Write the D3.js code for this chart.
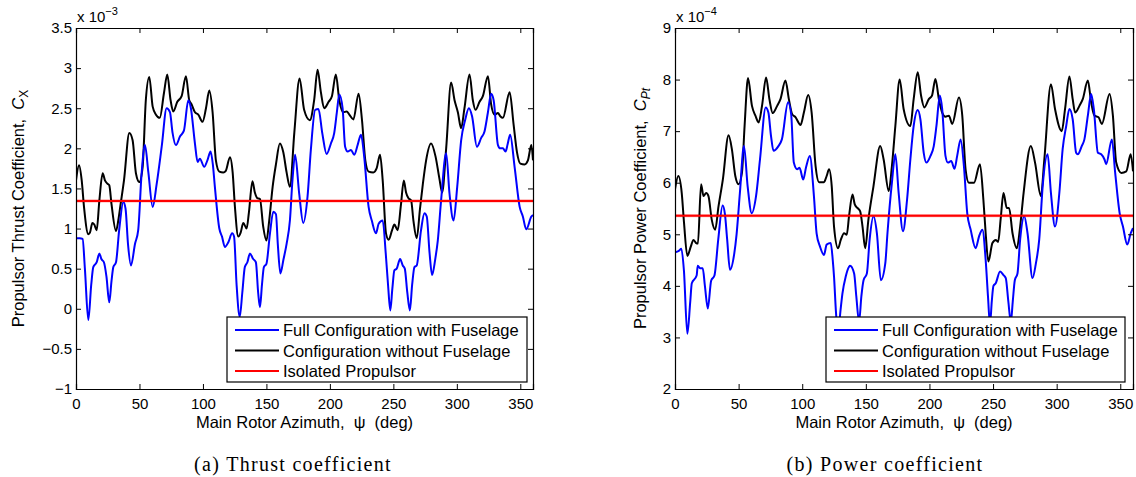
<!DOCTYPE html>
<html><head><meta charset="utf-8">
<script src="https://cdn.jsdelivr.net/npm/d3@7"></script>
<style>
body{margin:0;background:#fff;}
svg text{font-family:"Liberation Sans",Arial,sans-serif;white-space:pre;}
svg text.cap{font-family:"Liberation Serif","DejaVu Serif",serif;letter-spacing:1.3px;}
</style></head>
<body><svg id="c" width="1136" height="477"></svg>
<script>
// ---------- DATA ----------
const xTicks = [0,50,100,150,200,250,300,350];
const thrustTicks = [-1,-0.5,0,0.5,1,1.5,2,2.5,3,3.5];
const powerTicks = [2,3,4,5,6,7,8,9];
const legendLabels = ["Full Configuration with Fuselage","Configuration without Fuselage","Isolated Propulsor"];

// Thrust coefficient (x 1e-3) – full configuration with fuselage
const thrustFullAz = [0,3,5.2,7,9.7,12,13.6,16.3,18.4,20,22,24,26.2,28,29.4,31.5,34,37.3,39,41,43.3,46.5,49,51.7,54.3,57,60.4,63.5,67.5,71.4,74,76,78.7,82,85,88.5,90.5,93.7,95.8,97.6,101,103.5,106,107.8,109.4,112.9,115,117.3,120,123,124.5,126.5,129,131,133,135,137,139.6,141.7,143.5,144.9,146.5,148,150,152.8,155.4,157.5,159,161,163.5,165.9,168.5,170.5,172.6,175.8,179,182.4,185,188.4,191,194,197.4,200.8,203.4,205.5,207.4,210,212,214,216.6,219.2,222,224.5,227,230.5,233,236.3,238.4,241.6,244,245.8,247.6,249.2,250.8,252.6,255.3,257.4,259,261,263,264.8,266.6,268.4,271.8,274.5,276.3,278.5,280.5,283,285,287.6,291.6,294.2,297.4,300.3,303.4,306.5,309.5,312,315.8,319.2,321.8,324.5,327,329,332.4,334.2,336.3,338.4,340,342,345.5,349.5,352,354.7,358.7,360];
const thrustFull = [0.88,0.88,0.87,0.5,-0.14,0.3,0.52,0.58,0.69,0.62,0.58,0.4,0.08,0.35,0.52,0.58,0.98,1.33,1.25,0.8,0.54,0.81,0.98,1.69,2.04,1.7,1.27,1.55,2.02,2.5,2.45,2.2,2.04,2.15,2.22,2.6,2.5,2.06,1.83,1.87,1.77,1.85,1.96,1.8,1.52,1.0,0.9,0.77,0.83,0.94,0.9,0.3,-0.1,0.2,0.52,0.58,0.69,0.62,0.58,0.2,0.02,0.3,0.52,0.56,0.94,1.21,1.18,0.8,0.44,0.62,0.81,1.1,1.6,1.92,1.44,1.07,1.4,1.98,2.48,2.49,2.19,1.93,2.06,2.19,2.45,2.67,2.5,2.02,1.96,1.98,1.92,2.05,2.17,1.9,1.27,1.1,0.94,1.06,1.1,0.69,0.3,-0.02,0.25,0.48,0.5,0.62,0.54,0.5,0.2,-0.02,0.3,0.52,0.54,0.98,1.19,1.15,0.7,0.42,0.62,0.85,1.35,1.94,1.44,1.1,1.52,2.1,2.35,2.5,2.4,2.02,2.13,2.21,2.45,2.68,2.6,2.04,2.0,2.0,1.96,2.05,2.17,1.77,1.27,1.15,0.99,1.15,1.17];

// Thrust coefficient (x 1e-3) – configuration without fuselage
const thrustNoFusAz = [0,2.4,4.5,6.3,9.7,11,12.9,14.4,16.3,18.4,21,22.8,24.7,26.2,28,31.5,33.3,35.2,37.8,42,44.6,47.2,49.9,52.5,55,57.7,60.4,63,66,69.3,71.9,74.5,76.6,79.8,83.2,86.6,89.2,91,93.7,96.3,99.7,102.4,105,107.6,110.2,112.9,116,118,121.3,123.4,125.2,127.8,129.7,131.8,134.4,136.2,139,140.9,142.8,144.9,147.5,150,152.2,154.9,157.5,160.6,163.3,165.9,168.5,172,176.1,179.7,184.2,187.6,190.3,192.9,195.5,199,201.6,204.7,207.4,210.5,213.2,215.3,218.5,222.6,225.3,227.9,230.5,234.2,236.8,239.5,241.6,244.2,246.3,249,250.8,253.4,256,258.2,260,261.8,264,265.8,268.4,271,273.2,275.8,279.7,283.2,286.3,288.4,291.6,295.5,298.2,300.8,303.4,306,310,312.6,314.7,317.9,320.5,324.5,327,329.7,332.4,334.2,336.3,341.6,344.7,347.4,350,353.4,356,358.7,360];
const thrustNoFus = [1.6,1.79,1.6,1.27,0.93,0.95,1.07,1.05,0.98,1.35,1.69,1.6,1.56,1.54,1.3,0.97,1.1,1.31,1.6,2.19,2.1,1.69,1.58,1.77,2.6,2.89,2.52,2.42,2.38,2.69,2.92,2.6,2.46,2.58,2.65,2.9,2.6,2.55,2.45,2.42,2.33,2.5,2.72,2.45,1.85,1.71,1.7,1.72,1.89,1.7,1.27,0.9,0.95,1.07,1.0,1.2,1.59,1.45,1.38,1.37,1.02,0.85,1.1,1.52,1.8,2.06,1.95,1.7,1.52,2.2,2.87,2.48,2.35,2.6,2.98,2.7,2.5,2.58,2.65,2.92,2.6,2.45,2.46,2.42,2.36,2.68,2.35,1.85,1.71,1.7,1.75,1.92,1.6,0.94,0.86,0.98,1.05,0.98,1.3,1.6,1.45,1.38,1.35,1.1,0.88,1.25,1.55,1.85,2.06,1.9,1.62,1.45,2.0,2.82,2.6,2.45,2.25,2.5,2.92,2.6,2.48,2.58,2.65,2.9,2.55,2.42,2.44,2.4,2.38,2.7,2.3,1.95,1.81,1.8,1.85,2.04,1.85];

// Thrust coefficient – isolated propulsor
const thrustIsoAz = [0,360];
const thrustIso = [1.345,1.345];

// Power coefficient (x 1e-4) – full configuration with fuselage
const powerFullAz = [0,3,5,7,9.7,12,13.2,17,17.9,19.7,21.8,23.5,25.8,28.4,31,34,37.4,39.2,41,43.2,46.6,48.4,51,54.2,57.1,60.3,63.7,66.8,71.3,73.4,75.5,77.4,81.3,84,88.9,91.3,93.4,96,97.9,100.8,103,106,109.2,111.3,114,117.1,119.2,122.4,124,125,126.5,128.2,130,131.6,134.2,136.8,137.6,140.8,142.5,144.7,146.5,148.2,150.8,153,156,158.7,161.8,165.3,167,170.5,173.2,175.8,179.2,182.4,185,187.6,190.8,192.9,195.5,197.6,200.8,203.4,205.5,208.2,210,212.6,214.5,217.1,219.7,221.8,224.5,227.1,229.7,232.4,236.3,239,241.6,244.2,246,247.6,249,250.3,252.1,255.5,258.2,260,262,264,265.5,267.1,269.2,271.3,274.5,277.1,281,283.7,286.3,289,292.9,295.5,298.7,302.1,304.7,307.5,310,312.6,315.3,316.6,319.7,321.8,324.5,327.1,329.2,332.4,335,337.6,338.9,343.4,346,349.5,352.1,355.5,358.2,360];
const powerFull = [4.65,4.68,4.72,4.3,3.07,3.7,4.05,4.2,4.39,4.34,4.34,4.0,3.56,4.1,4.2,4.9,5.56,5.4,4.9,4.31,4.63,5.0,5.8,6.71,5.93,5.41,5.74,6.45,7.46,7.36,6.9,6.62,6.71,6.84,7.56,7.33,6.39,6.26,6.29,6.06,6.3,6.52,5.74,5.02,4.76,4.6,4.8,4.83,4.5,4.18,3.5,3.05,3.5,3.85,4.18,4.37,4.39,4.24,3.8,3.3,3.8,4.11,4.24,4.9,5.35,5.02,4.11,4.44,5.02,6.0,6.55,5.8,5.06,5.67,6.45,7.1,7.41,7.23,6.58,6.39,6.52,6.71,7.1,7.69,7.43,6.52,6.39,6.42,6.27,6.52,6.84,6.32,5.41,5.09,4.73,4.96,5.09,4.5,3.8,3.25,3.7,4.0,4.05,4.28,4.21,4.15,3.7,3.3,3.7,4.11,4.24,4.9,5.35,5.02,4.15,4.44,4.9,5.93,6.55,5.8,5.15,5.8,6.65,7.1,7.43,7.23,6.58,6.55,6.71,6.84,7.3,7.72,7.43,6.58,6.55,6.45,6.36,6.84,6.19,5.41,5.15,4.8,5.02,5.12];

// Power coefficient (x 1e-4) – configuration without fuselage
const powerNoFusAz = [0,2.6,5.3,7.1,9.7,12.4,14.5,16.6,18,20.5,22.4,24.5,26.3,28.9,31.6,34.2,37.6,42.1,44.7,47.4,50,52.6,54.7,57.4,60.5,63.2,65.8,68.4,71.6,74.2,76.8,80.3,82.9,86.8,89.5,92.1,94.7,98.7,101.3,104.7,107.4,110.5,113.2,117.1,119.2,121.1,123.2,125,128.2,130.3,132.9,135,136.8,139.5,141.3,143.4,145.5,147.4,149.5,152,156,161.3,164,168,170.5,173.2,176.6,179.7,185,187.6,190.8,193.4,196,199.5,202,204.7,207.4,210,212.6,215.3,217.9,223.2,225.8,228.4,231,235,239.7,242.4,244.2,246.3,249.5,252.1,254,256,258.2,260.8,262.6,265.3,268.7,271.3,274,279.7,283,287.6,290.3,295.5,298.7,304,306.6,310,312.6,314.5,317.9,320.5,324.5,327.1,329.7,332.9,335.5,341.6,344.2,346.8,350.8,354.7,358.2,360];
const powerNoFus = [5.87,6.13,5.8,5.22,4.58,4.76,4.89,4.83,4.82,5.97,5.74,5.8,5.74,5.28,5.09,5.54,6.06,6.92,6.65,6.13,5.97,6.19,7.1,8.03,7.49,7.3,7.17,7.49,8.04,7.62,7.35,7.49,7.62,7.98,7.62,7.33,7.27,7.12,7.36,7.7,7.36,6.32,6.01,6.01,6.13,6.26,5.93,5.15,4.73,4.89,5.02,4.99,5.35,5.77,5.58,5.51,5.45,5.15,4.73,5.28,5.93,6.71,6.45,5.84,6.32,7.1,8.0,7.43,7.1,7.62,8.14,7.69,7.46,7.62,7.69,8.01,7.62,7.36,7.28,7.3,7.14,7.65,7.3,6.26,6.0,6.0,6.36,5.67,5.02,4.47,4.83,4.89,4.85,5.3,5.8,5.51,5.51,5.02,4.73,5.15,5.8,6.71,6.39,5.74,6.45,7.91,7.43,7.0,7.43,8.06,7.62,7.36,7.49,7.62,7.98,7.56,7.3,7.27,7.14,7.72,7.3,6.39,6.19,6.22,6.55,6.22];

// Power coefficient – isolated propulsor
const powerIsoAz = [0,360];
const powerIso = [5.36,5.36];

// ---------- DRAW ----------
const svg = d3.select("#c");
const colors = ["#0000ff","#000000","#ff0000"];
const FS = 15;      // tick labels
const LFS = 16.5;   // axis titles / legend

function zip(a,b){return a.map((v,i)=>[v,b[i]]);}

function panel(o){
  const x = d3.scaleLinear().domain([0,360]).range([o.x0,o.x1]);
  const y = d3.scaleLinear().domain(o.yDomain).range([o.y1,o.y0]);
  const g = svg.append("g");
  const clipId = "clip"+o.id;
  g.append("clipPath").attr("id",clipId).append("rect")
    .attr("x",o.x0).attr("y",o.y0).attr("width",o.x1-o.x0).attr("height",o.y1-o.y0);

  const line = d3.line().x(d=>x(d[0])).y(d=>y(d[1])).curve(d3.curveMonotoneX);
  const series = [o.full,o.nofus,o.iso];
  g.append("path").datum(series[2]).attr("d",line).attr("fill","none")
   .attr("stroke","#ffb0b0").attr("stroke-width",3.2).attr("clip-path",`url(#${clipId})`);
  [1,0,2].forEach(i=>{
    g.append("path").datum(series[i]).attr("d",line).attr("fill","none")
     .attr("stroke",colors[i]).attr("stroke-width",2).attr("stroke-linejoin","round")
     .attr("clip-path",`url(#${clipId})`);
  });

  const tl = 5;
  const bottom = g.append("g").attr("transform",`translate(0,${o.y1})`)
    .call(d3.axisBottom(x).tickValues(xTicks).tickSize(-tl).tickPadding(9).tickFormat(d3.format("d")));
  const top = g.append("g").attr("transform",`translate(0,${o.y0})`)
    .call(d3.axisTop(x).tickValues(xTicks).tickSize(-tl).tickFormat(""));
  const left = g.append("g").attr("transform",`translate(${o.x0},0)`)
    .call(d3.axisLeft(y).tickValues(o.yTicks).tickSize(-tl).tickPadding(4).tickFormat(o.fmt));
  const right = g.append("g").attr("transform",`translate(${o.x1},0)`)
    .call(d3.axisRight(y).tickValues(o.yTicks).tickSize(-tl).tickFormat(""));
  [bottom,top,left,right].forEach(a=>{
    a.attr("font-size",null).attr("font-family",null);
    a.select(".domain").attr("stroke","#000").attr("stroke-width",1.2);
    a.selectAll(".tick line").attr("stroke","#000").attr("stroke-width",1);
    a.selectAll("text").style("font-size",FS+"px").attr("fill","#000");
  });
  bottom.selectAll("text").attr("dy","0.71em");

  const ex = g.append("text").attr("x",o.x0+1).attr("y",22).style("font-size",FS+"px");
  ex.append("tspan").text("x 10");
  ex.append("tspan").attr("dy",-7).style("font-size","11px").text(o.exp);

  g.append("text").attr("x",(o.x0+o.x1)/2).attr("y",428).attr("text-anchor","middle")
   .style("font-size",LFS+"px").text("Main Rotor Azimuth,  \u03C8  (deg)");

  const yl = g.append("text").attr("transform",`translate(${o.ylx},${(o.y0+o.y1)/2}) rotate(-90)`)
   .attr("text-anchor","middle").style("font-size",LFS+"px");
  yl.append("tspan").text(o.ylabel+",  ");
  yl.append("tspan").attr("font-style","italic").text("C");
  yl.append("tspan").attr("dy",4).style("font-size","12px").attr("font-style",o.subItalic?"italic":"normal").text(o.sub);

  const lg = g.append("g");
  lg.append("rect").attr("x",o.lx).attr("y",317).attr("width",o.lw).attr("height",65)
    .attr("fill","#fff").attr("stroke","#000").attr("stroke-width",1.2);
  legendLabels.forEach((t,i)=>{
    const yy = 330 + i*20.5;
    lg.append("line").attr("x1",o.lx+8).attr("x2",o.lx+52).attr("y1",yy).attr("y2",yy)
      .attr("stroke",colors[i]).attr("stroke-width",2);
    lg.append("text").attr("x",o.lx+56).attr("y",yy+6).style("font-size",LFS+"px").text(t);
  });

  svg.append("text").attr("class","cap").attr("x",o.capx).attr("y",471).attr("text-anchor","middle")
    .style("font-size","20px").text(o.caption);
}

panel({id:"a",x0:76,x1:533,y0:28,y1:389,yDomain:[-1,3.5],yTicks:thrustTicks,
  fmt:d=>(d<0?"\u2212":"")+d3.format("")(Math.abs(d)),exp:"\u22123",
  full:zip(thrustFullAz,thrustFull),nofus:zip(thrustNoFusAz,thrustNoFus),iso:zip(thrustIsoAz,thrustIso),
  ylabel:"Propulsor Thrust Coefficient",sub:"X",subItalic:false,ylx:24,lx:227,lw:300,
  capx:293,caption:"(a) Thrust coefficient"});
panel({id:"b",x0:675,x1:1133,y0:28,y1:389,yDomain:[2,9],yTicks:powerTicks,
  fmt:d3.format("d"),exp:"\u22124",
  full:zip(powerFullAz,powerFull),nofus:zip(powerNoFusAz,powerNoFus),iso:zip(powerIsoAz,powerIso),
  ylabel:"Propulsor Power Coefficient",sub:"Pt",subItalic:true,ylx:646,lx:826,lw:299,
  capx:885,caption:"(b) Power coefficient"});
</script></body></html>
